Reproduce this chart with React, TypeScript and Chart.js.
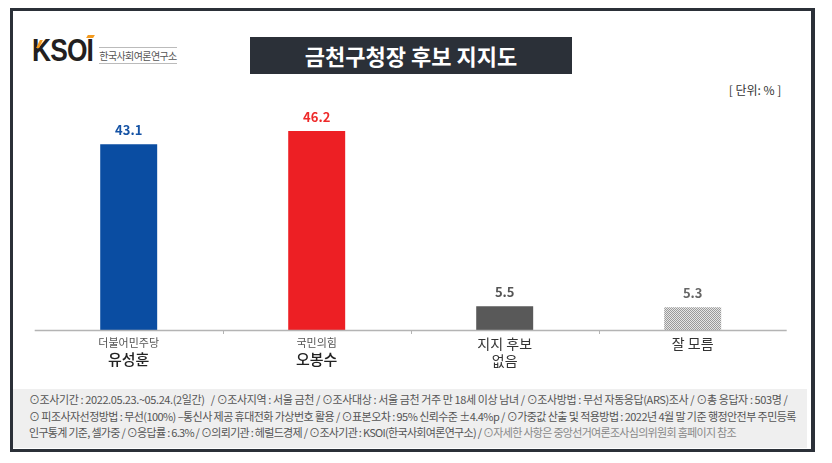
import React, { useEffect, useRef } from "react";
import { Chart, registerables } from "chart.js";

Chart.register(...registerables);

const candidates: string[][] = [["유성훈"], ["오봉수"], ["지지 후보", "없음"], ["잘 모름"]];
const parties: string[] = ["더불어민주당", "국민의힘", "", ""];
const values: number[] = [43.1, 46.2, 5.5, 5.3];
const barColors: string[] = ["#0a4da2", "#ed1f24", "#595959", "pattern"];
const valueLabelColors: string[] = ["#1553a5", "#ee2a2a", "#555555", "#666666"];
const yMax = 50;

const title = "금천구청장 후보 지지도";
const unitLabel = "[ 단위: % ]";
const footerLines: string[] = [
  "⊙조사기간 : 2022.05.23.~05.24.(2일간)   / ⊙조사지역 : 서울 금천 / ⊙조사대상 : 서울 금천 거주 만 18세 이상 남녀 / ⊙조사방법 : 무선 자동응답(ARS)조사 / ⊙총 응답자 : 503명 /",
  "⊙ 피조사자선정방법 : 무선(100%) –통신사 제공 휴대전화 가상번호 활용 / ⊙표본오차 : 95% 신뢰수준 ±4.4%p / ⊙가중값 산출 및 적용방법 : 2022년 4월 말 기준 행정안전부 주민등록",
  "인구통계 기준, 셀가중 / ⊙응답률 : 6.3% / ⊙의뢰기관 : 헤럴드경제 / ⊙조사기관 : KSOI(한국사회여론연구소) / ",
];
const footerTail = "⊙자세한 사항은 중앙선거여론조사심의위원회 홈페이지 참조";

const FONT = "'Noto Sans CJK KR', 'Noto Sans', sans-serif";

function makePattern(): CanvasPattern | string {
  const c = document.createElement("canvas");
  c.width = 2;
  c.height = 2;
  const g = c.getContext("2d");
  if (!g) return "#bbbbbb";
  g.fillStyle = "#e6e6e6";
  g.fillRect(0, 0, 2, 2);
  g.fillStyle = "#9a9a9a";
  g.fillRect(0, 0, 1, 1);
  g.fillRect(1, 1, 1, 1);
  const p = g.createPattern(c, "repeat");
  return p || "#bbbbbb";
}

const overlayPlugin = {
  id: "overlay",
  afterDatasetsDraw(chart: any) {
    const ctx = chart.ctx;
    const area = chart.chartArea;
    const xs = chart.scales.x;
    const meta = chart.getDatasetMeta(0);
    ctx.save();
    // axis line
    ctx.strokeStyle = "#b4b4b4";
    ctx.lineWidth = 1.5;
    ctx.beginPath();
    ctx.moveTo(area.left, area.bottom + 0.5);
    ctx.lineTo(area.right, area.bottom + 0.5);
    ctx.stroke();
    // tick marks between categories
    ctx.lineWidth = 1;
    for (let i = 1; i < values.length; i++) {
      const x = Math.round((xs.getPixelForValue(i - 1) + xs.getPixelForValue(i)) / 2) + 0.5;
      ctx.beginPath();
      ctx.moveTo(x, area.bottom);
      ctx.lineTo(x, area.bottom + 4);
      ctx.stroke();
    }
    // value labels
    ctx.textAlign = "center";
    ctx.textBaseline = "middle";
    ctx.font = `bold 13px ${FONT}`;
    meta.data.forEach((bar: any, i: number) => {
      ctx.fillStyle = valueLabelColors[i];
      ctx.fillText(values[i].toFixed(1), bar.x, bar.y - 14);
    });
    // category labels
    candidates.forEach((lines, i) => {
      const x = xs.getPixelForValue(i);
      if (parties[i]) {
        ctx.font = `11px ${FONT}`;
        ctx.fillStyle = "#555555";
        ctx.fillText(parties[i], x, area.bottom + 13);
        ctx.font = `500 15px ${FONT}`;
        ctx.fillStyle = "#222222";
        ctx.fillText(lines[0], x, area.bottom + 29);
      } else {
        ctx.font = `14px ${FONT}`;
        ctx.fillStyle = "#333333";
        lines.forEach((ln, j) => {
          ctx.fillText(ln, x, area.bottom + 14 + j * 17);
        });
      }
    });
    ctx.restore();
  },
};

function BarChart() {
  const ref = useRef<HTMLCanvasElement | null>(null);
  useEffect(() => {
    if (!ref.current) return;
    const pattern = makePattern();
    const colors = barColors.map((c) => (c === "pattern" ? pattern : c));
    const chart = new Chart(ref.current, {
      type: "bar",
      data: {
        labels: candidates.map((l) => l.join(" ")),
        datasets: [
          {
            data: values,
            backgroundColor: colors as any,
            borderWidth: 0,
            barPercentage: 0.303,
            categoryPercentage: 1,
          },
        ],
      },
      options: {
        responsive: false,
        animation: false,
        devicePixelRatio: 1,
        layout: { padding: { left: 21.7, right: 23.3, top: 19.5, bottom: 50 } },
        plugins: { legend: { display: false }, tooltip: { enabled: false } },
        scales: {
          x: { display: false },
          y: { display: false, min: 0, max: yMax },
        },
      },
      plugins: [overlayPlugin],
    });
    return () => chart.destroy();
  }, []);
  return (
    <canvas
      ref={ref}
      width={797}
      height={285}
      style={{ position: "absolute", left: 13, top: 95, width: 797, height: 285 }}
    />
  );
}

const footerSpacing = [-0.4, -0.56, -0.7];

export default function App() {
  return (
    <div
      style={{
        position: "absolute",
        left: 0,
        top: 0,
        width: 832,
        height: 463,
        background: "#ffffff",
        fontFamily: FONT,
        overflow: "hidden",
      }}
    >
      {/* footer background */}
      <div
        style={{
          position: "absolute",
          left: 13,
          top: 389,
          width: 794,
          height: 59,
          background: "#efefef",
        }}
      />
      <div
        style={{
          position: "absolute",
          left: 10,
          top: 8,
          width: 798,
          height: 438,
          border: "3px solid #2b3038",
          borderRightWidth: 4,
        }}
      />
      {/* logo */}
      <div
        style={{
          position: "absolute",
          left: 32,
          top: 33,
          fontFamily: "'Liberation Sans', Arial, sans-serif",
          fontWeight: "bold",
          fontSize: 31,
          lineHeight: "36px",
          color: "#231f20",
          letterSpacing: -1,
          transform: "scaleX(0.85)",
          transformOrigin: "left center",
          whiteSpace: "nowrap",
        }}
      >
        <span style={{ color: "#231f20" }}>K</span>
        <span>SOI</span>
      </div>
      <div
        style={{
          position: "absolute",
          left: 87,
          top: 35,
          width: 7,
          height: 3,
          background: "#f39a1e",
          transform: "skewX(-30deg)",
        }}
      />
      <div
        style={{
          position: "absolute",
          left: 38,
          top: 40,
          width: 3,
          height: 8,
          background: "#f39a1e",
          transform: "skewX(-25deg)",
        }}
      />
      <div
        style={{
          position: "absolute",
          left: 99,
          top: 47,
          width: 78,
          height: 15,
          borderTop: "1px solid #bbbbbb",
          borderBottom: "1px solid #bbbbbb",
          fontSize: 10,
          lineHeight: "15px",
          color: "#555555",
          whiteSpace: "nowrap",
          letterSpacing: -0.6,
          textAlign: "center",
        }}
      >
        한국사회여론연구소
      </div>
      {/* title */}
      <div
        style={{
          position: "absolute",
          left: 250,
          top: 37,
          width: 322,
          height: 37,
          background: "#2b3038",
          color: "#ffffff",
          fontSize: 22,
          fontWeight: "bold",
          lineHeight: "37px",
          textAlign: "center",
          whiteSpace: "nowrap",
        }}
      >
        {title}
      </div>
      <div
        style={{
          position: "absolute",
          left: 722,
          top: 81,
          width: 66,
          fontSize: 12,
          lineHeight: "18px",
          color: "#333333",
          textAlign: "center",
          whiteSpace: "nowrap",
        }}
      >
        {unitLabel}
      </div>
      <BarChart />
      {/* footer text */}
      <div
        style={{
          position: "absolute",
          left: 29,
          top: 391,
          fontSize: 11,
          lineHeight: "16.5px",
          color: "#555555",
          whiteSpace: "pre",
        }}
      >
        <div style={{ letterSpacing: footerSpacing[0] }}>{footerLines[0]}</div>
        <div style={{ letterSpacing: footerSpacing[1] }}>{footerLines[1]}</div>
        <div style={{ letterSpacing: footerSpacing[2] }}>
          {footerLines[2]}
          <span style={{ color: "#888888" }}>{footerTail}</span>
        </div>
      </div>
    </div>
  );
}
